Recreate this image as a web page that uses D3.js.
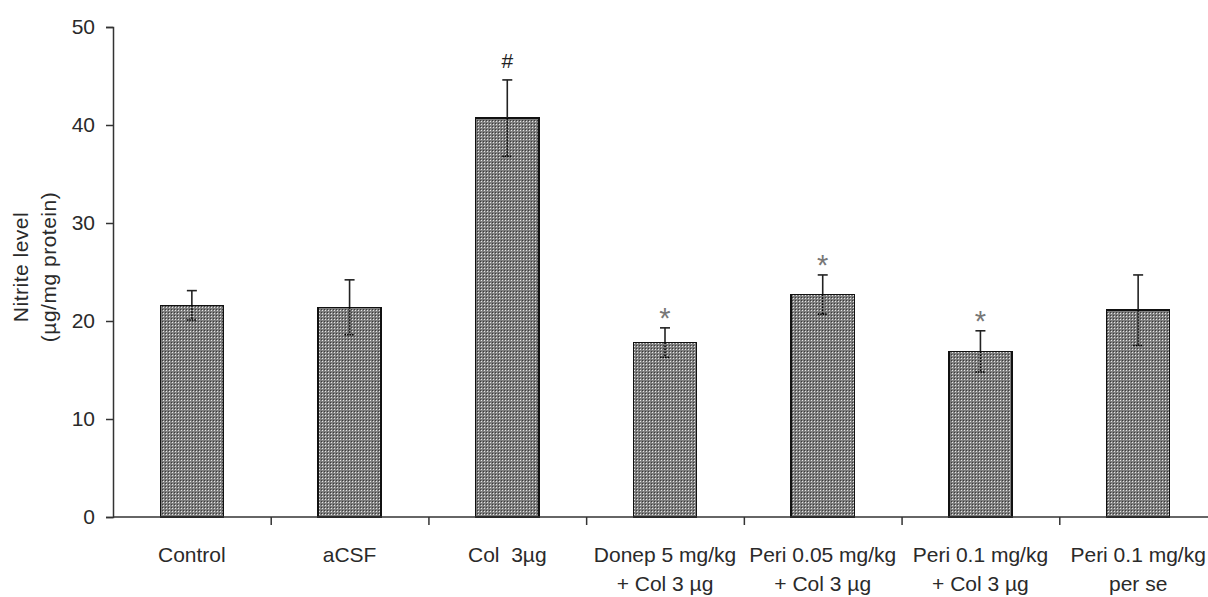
<!DOCTYPE html>
<head>
  <meta charset="utf-8">
  <title>Nitrite level</title>
  <style>
    body { margin: 0; background: #fff; }
    text { font-family: "Liberation Sans", Arial, sans-serif; fill: #2a2a2a; white-space: pre; }
  </style>
</head>
<body>
<svg width="1208" height="597"></svg>
<script src="https://d3js.org/d3.v7.min.js"></script>
<script>

// data
var groups = [
  ["Control"],
  ["aCSF"],
  ["Col  3\u00b5g"],
  ["Donep 5 mg/kg", "+ Col 3 \u00b5g"],
  ["Peri 0.05 mg/kg", "+ Col 3 \u00b5g"],
  ["Peri 0.1 mg/kg", "+ Col 3 \u00b5g"],
  ["Peri 0.1 mg/kg", "per se"]
];
var means = [21.6, 21.4, 40.7, 17.8, 22.7, 16.9, 21.1];
var sems  = [1.5, 2.8, 3.9, 1.5, 2.0, 2.1, 3.6];
var marks = ["", "", "#", "*", "*", "*", ""];
var yTicks = [0, 10, 20, 30, 40, 50];

var svg = d3.select("svg");

var plotLeft = 113, plotRight = 1217, plotTop = 27, plotBottom = 517;

var x = d3.scaleBand()
    .domain(d3.range(means.length))
    .range([plotLeft, plotRight])
    .paddingInner(0.6)
    .paddingOuter(0.3);

var xEdges = d3.scaleLinear().domain([0, means.length]).range([plotLeft, plotRight]);

var y = d3.scaleLinear().domain([0, 50]).range([plotBottom, plotTop]);

// stipple fill like the original
var defs = svg.append("defs");
var pat = defs.append("pattern")
    .attr("id", "stipple")
    .attr("width", 3).attr("height", 3)
    .attr("patternUnits", "userSpaceOnUse");
pat.append("rect").attr("width", 3).attr("height", 3).attr("fill", "#7e7e7e");
pat.append("rect").attr("x", 1).attr("y", 1).attr("width", 1).attr("height", 1).attr("fill", "#e6e6e6");
pat.append("rect").attr("x", 0).attr("y", 0).attr("width", 1).attr("height", 1).attr("fill", "#3a3a3a");

// bars
svg.append("g")
  .selectAll("rect")
  .data(means)
  .enter().append("rect")
    .attr("x", function(d, i) { return x(i); })
    .attr("y", function(d) { return y(d); })
    .attr("width", x.bandwidth())
    .attr("height", function(d) { return y(0) - y(d); })
    .attr("fill", "url(#stipple)")
    .attr("stroke", "#111")
    .attr("stroke-width", 1.5)
    .attr("shape-rendering", "crispEdges");

// error bars: solid above, dotted below
var cap = 5;
var err = svg.append("g").attr("stroke", "#222").attr("stroke-width", 1.6);
means.forEach(function(m, i) {
  var cx = x(i) + x.bandwidth() / 2;
  err.append("line")
      .attr("x1", cx).attr("x2", cx)
      .attr("y1", y(m)).attr("y2", y(m + sems[i]));
  err.append("line")
      .attr("x1", cx - cap).attr("x2", cx + cap)
      .attr("y1", y(m + sems[i])).attr("y2", y(m + sems[i]));
  err.append("line")
      .attr("x1", cx).attr("x2", cx)
      .attr("y1", y(m)).attr("y2", y(m - sems[i]))
      .attr("stroke", "#000")
      .attr("stroke-dasharray", "1.5,1.5");
  err.append("line")
      .attr("x1", cx - cap).attr("x2", cx + cap)
      .attr("y1", y(m - sems[i])).attr("y2", y(m - sems[i]))
      .attr("stroke", "#000")
      .attr("stroke-dasharray", "1.5,1");
});

// significance marks
svg.append("g")
  .selectAll("text")
  .data(marks)
  .enter().append("text")
    .attr("x", function(d, i) { return x(i) + x.bandwidth() / 2; })
    .attr("y", function(d, i) { return y(means[i] + sems[i]) - (d == "#" ? 12 : 0); })
    .attr("text-anchor", "middle")
    .style("font-size", function(d) { return d == "#" ? "21px" : "29px"; })
    .style("fill", function(d) { return d == "#" ? "#222" : "#777"; })
    .text(function(d) { return d; });

// y axis
var yAxis = svg.append("g")
    .attr("transform", "translate(" + plotLeft + ",0)")
    .call(d3.axisLeft(y).tickValues(yTicks).tickSize(7).tickPadding(11));
yAxis.selectAll("text").style("font-size", "21px").style("font-family", "Liberation Sans, Arial, sans-serif");
yAxis.selectAll("line, path").attr("stroke", "#333").attr("stroke-width", 1.5);

// x axis with ticks on the group boundaries
var xAxis = svg.append("g")
    .attr("transform", "translate(0," + plotBottom + ")")
    .call(d3.axisBottom(xEdges).tickValues(d3.range(1, means.length + 1)).tickSize(8).tickFormat(""));
xAxis.select(".domain").attr("d", "M" + plotLeft + ",0H" + plotRight);
xAxis.selectAll("line, path").attr("stroke", "#333").attr("stroke-width", 1.5);

// category labels
var lab = svg.append("g")
  .selectAll("text")
  .data(groups)
  .enter().append("text")
    .attr("text-anchor", "middle")
    .attr("transform", function(d, i) { return "translate(" + (x(i) + x.bandwidth() / 2) + ",562)"; })
    .style("font-size", "21px");
lab.selectAll("tspan")
  .data(function(d) { return d; })
  .enter().append("tspan")
    .attr("x", 0)
    .attr("dy", function(d, j) { return j == 0 ? 0 : 29; })
    .text(function(d) { return d; });

// y axis title
var yt = svg.append("text")
    .attr("transform", "translate(28,267) rotate(-90)")
    .attr("text-anchor", "middle")
    .style("font-size", "21px")
    .style("letter-spacing", "0.5px");
yt.append("tspan").attr("x", 0).attr("dy", 0).text("Nitrite level");
yt.append("tspan").attr("x", 0).attr("dy", 28).text("(\u00b5g/mg protein)");

</script>
</body>
</html>
